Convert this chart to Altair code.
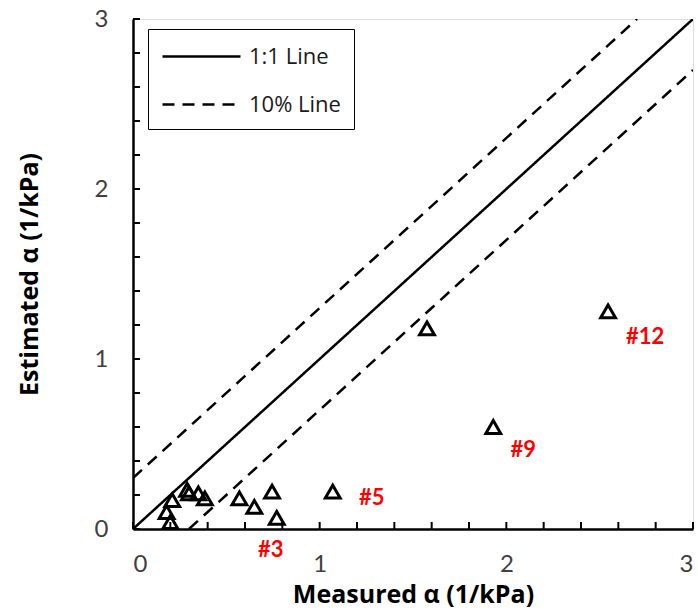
import altair as alt
import pandas as pd

# Measured vs. estimated alpha for each sample (1/kPa)
measured = [0.20, 0.18, 0.21, 0.29, 0.30, 0.35, 0.385, 0.57, 0.65, 0.745, 0.77, 1.07, 1.575, 1.93, 2.545]
estimated = [0.04, 0.10, 0.17, 0.23, 0.21, 0.21, 0.18, 0.18, 0.13, 0.22, 0.065, 0.22, 1.18, 0.60, 1.28]
sample_ids = ["", "", "", "", "", "", "", "", "", "", "#3", "#5", "", "#9", "#12"]

# Reference lines: 1:1 and +/-10% of full scale
line_series = ["1:1 Line", "1:1 Line", "10% Line", "10% Line", "10% Line", "10% Line"]
line_segment = ["one", "one", "upper", "upper", "lower", "lower"]
line_x = [0.0, 3.0, 0.0, 2.7, 0.3, 3.0]
line_y = [0.0, 3.0, 0.3, 3.0, 0.0, 2.7]

# Axis tick positions
major_ticks = [0, 1, 2, 3]
minor_ticks = [0.2, 0.4, 0.6, 0.8, 1.2, 1.4, 1.6, 1.8, 2.2, 2.4, 2.6, 2.8]

FONT = "Lato"
TITLE_FONT = "Open Sans"

points = pd.DataFrame({"measured": measured, "estimated": estimated, "sample": sample_ids})
lines = pd.DataFrame({"series": line_series, "segment": line_segment, "x": line_x, "y": line_y})
ticks = pd.DataFrame({"v": major_ticks + minor_ticks})

xscale = alt.Scale(domain=[0, 3], nice=False, zero=True)
yscale = alt.Scale(domain=[0, 3], nice=False, zero=True)

x_axis = alt.Axis(
    values=major_ticks, format="d", ticks=False, tickSize=0, grid=False,
    domainColor="black", domainWidth=2.5,
    labelFont=FONT, labelFontSize=24, labelColor="#404040", labelPadding=23,
    title="Measured α (1/kPa)", titleFont=TITLE_FONT, titleFontSize=25,
    titleFontWeight="bold", titleColor="black", titlePadding=6,
)
y_axis = alt.Axis(
    values=major_ticks, format="d", ticks=False, tickSize=0, grid=False,
    domainColor="black", domainWidth=2.5,
    labelFont=FONT, labelFontSize=24, labelColor="#404040", labelPadding=25,
    title="Estimated α (1/kPa)", titleFont=TITLE_FONT, titleFontSize=25,
    titleFontWeight="bold", titleColor="black", titlePadding=52,
)

# Legend swatch: a long horizontal stroke drawn from a short symbol footprint
SWATCH = "M-1,0H5"

ref_lines = alt.Chart(lines).mark_line(strokeWidth=2.5, clip=True).encode(
    x=alt.X("x:Q", scale=xscale, axis=x_axis),
    y=alt.Y("y:Q", scale=yscale, axis=y_axis),
    detail="segment:N",
    strokeDash=alt.StrokeDash(
        "series:N",
        scale=alt.Scale(domain=["1:1 Line", "10% Line"], range=[[1, 0], [12, 8]]),
        legend=alt.Legend(
            title=None, orient="none", legendX=15, legendY=10,
            symbolType=SWATCH, symbolSize=676, symbolStrokeWidth=2.5,
            symbolStrokeColor="black", labelFont=TITLE_FONT, labelFontSize=22,
            labelColor="#1a1a1a", labelOffset=59, rowPadding=22,
            strokeColor="black", padding=13,
        ),
    ),
    color=alt.value("black"),
)

markers = alt.Chart(points).mark_point(
    shape="triangle-up", filled=False, size=220, stroke="black", strokeWidth=3, opacity=1
).encode(x=alt.X("measured:Q", scale=xscale), y=alt.Y("estimated:Q", scale=yscale))

# Sample labels, each nudged off its marker
label_offsets = {"#3": (-6, 32), "#5": (39, 6), "#9": (30, 23), "#12": (37, 26)}
label_layers = [
    alt.Chart(points).transform_filter(alt.datum.sample == name).mark_text(
        font=FONT, fontSize=22, fontWeight="bold", color="#ff0000", dx=dx, dy=dy
    ).encode(
        x=alt.X("measured:Q", scale=xscale),
        y=alt.Y("estimated:Q", scale=yscale),
        text="sample:N",
    )
    for name, (dx, dy) in label_offsets.items()
]

# Inside-pointing tick marks on both axes
y_ticks = alt.Chart(ticks).mark_rule(color="black", strokeWidth=2).encode(
    y=alt.Y("v:Q", scale=yscale), x=alt.value(0), x2=alt.value(7)
)
x_ticks = alt.Chart(ticks).mark_rule(color="black", strokeWidth=2).encode(
    x=alt.X("v:Q", scale=xscale), y=alt.value(510), y2=alt.value(503)
)

chart = alt.layer(ref_lines, y_ticks, x_ticks, markers, *label_layers).properties(
    width=560, height=510,
    autosize=alt.AutoSizeParams(type="none"),
    padding={"left": 133, "top": 19, "right": 5, "bottom": 84},
).configure_view(
    stroke="black", strokeWidth=2.5
).configure(background="white")

chart.save("out.html", embed_options={"renderer": "svg", "actions": False})
